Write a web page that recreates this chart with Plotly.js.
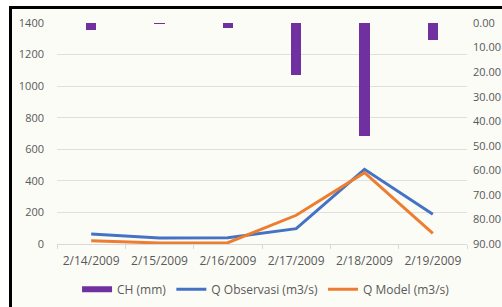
<!DOCTYPE html>
<html>
<head>
<meta charset="utf-8">
<script src="https://cdn.plot.ly/plotly-3.0.1.min.js"></script>
<style>
  html, body { margin: 0; padding: 0; background: #ffffff; }
  #wrap { position: relative; width: 502px; height: 307px; overflow: hidden; }
  #chart { position: absolute; left: 0; top: 0; width: 502px; height: 307px; }
  .ov { position: absolute; pointer-events: none; }
</style>
</head>
<body>
<div id="wrap">
  <div id="chart"></div>
  <div class="ov" style="left:0;top:0;width:9px;height:307px;background:#ffffff;"></div>
  <div class="ov" style="left:0;top:0;width:502px;height:6px;background:#ffffff;"></div>
  <div class="ov" style="left:9px;top:6px;width:493px;height:3px;background:#000000;"></div>
  <div class="ov" style="left:9px;top:6px;width:3px;height:301px;background:#000000;"></div>
</div>
<script>
const categories = ["2/14/2009", "2/15/2009", "2/16/2009", "2/17/2009", "2/18/2009", "2/19/2009"];
const chValues = [3, 0.3, 2, 21, 46, 7];
const qObservasi = [63, 38, 40, 97, 473, 188];
const qModel = [21, 6, 8, 182, 452, 68];
const leftTicks = [0, 200, 400, 600, 800, 1000, 1200, 1400];
const rightTicks = [0, 10, 20, 30, 40, 50, 60, 70, 80, 90];

const font = { family: "Open Sans, sans-serif", size: 11, color: "#595959" };
const xfont = { family: "Open Sans, sans-serif", size: 12, color: "#595959" };
const lfont = { family: "Open Sans, sans-serif", size: 12, color: "#595959" };

const data = [
  {
    type: "bar", name: "CH (mm)", x: categories, y: chValues, yaxis: "y2",
    marker: { color: "#7030A0" }, width: 0.15, showlegend: false
  },
  {
    type: "scatter", mode: "lines", name: "CH (mm)", x: [categories[0]], y: [null],
    yaxis: "y2", line: { color: "#7030A0", width: 6 }, showlegend: true
  },
  {
    type: "scatter", mode: "lines", name: "Q Observasi (m3/s)", x: categories, y: qObservasi,
    line: { color: "#4472C4", width: 3 }
  },
  {
    type: "scatter", mode: "lines", name: "Q Model (m3/s)", x: categories, y: qModel,
    line: { color: "#ED7D31", width: 3 }
  }
];

const layout = {
  width: 502, height: 307,
  margin: { l: 57, r: 35, t: 23, b: 63 },
  paper_bgcolor: "#fcfcf7",
  plot_bgcolor: "#fcfcf7",
  font: font,
  showlegend: true,
  legend: {
    orientation: "h", xref: "container", yref: "container",
    x: 0.53, xanchor: "center", y: 0.058, yanchor: "middle",
    font: lfont, itemwidth: 30, traceorder: "normal", bgcolor: "rgba(0,0,0,0)"
  },
  bargap: 0,
  xaxis: {
    type: "category", tickson: "boundaries", ticks: "outside", ticklen: 4,
    tickcolor: "#d9d9d9", showline: true, linecolor: "#d9d9d9", linewidth: 1,
    showgrid: false, tickfont: xfont, fixedrange: true, ticklabelstandoff: 6,
    automargin: false
  },
  yaxis: {
    range: [0, 1400], tickvals: leftTicks, ticktext: leftTicks.map(String),
    showgrid: true, gridcolor: "#e0e0e0", zeroline: false, showline: false,
    ticks: "", tickfont: font, ticklabelstandoff: 12, automargin: false
  },
  yaxis2: {
    overlaying: "y", side: "right", range: [90, 0], tickvals: rightTicks,
    ticktext: rightTicks.map(v => v.toFixed(2)), showgrid: false, zeroline: false,
    showline: false, ticks: "", tickfont: font, ticklabelstandoff: 5, automargin: false
  }
};

Plotly.newPlot("chart", data, layout, { displayModeBar: false, staticPlot: true });
</script>
</body>
</html>
